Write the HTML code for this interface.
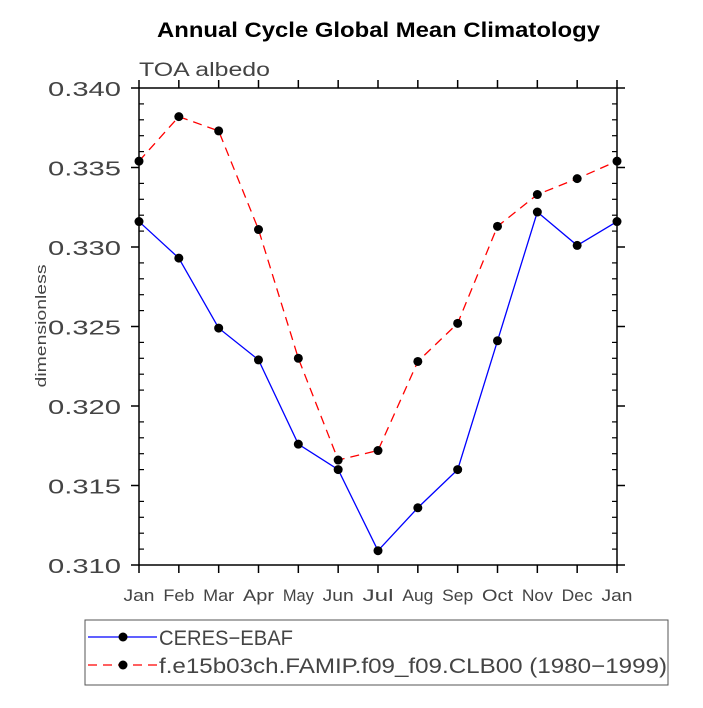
<!DOCTYPE html>
<html><head><meta charset="utf-8"><style>body{margin:0;background:#fff}svg text{font-family:"Liberation Sans",sans-serif}</style></head>
<body>
<svg id="c" width="703" height="703" xmlns="http://www.w3.org/2000/svg">
<text x="157" y="37" textLength="443" lengthAdjust="spacingAndGlyphs" font-size="21" font-weight="bold">Annual Cycle Global Mean Climatology</text>
<text x="139" y="76" textLength="131" lengthAdjust="spacingAndGlyphs" font-size="19" fill="#444">TOA albedo</text>
<text x="0" y="0" transform="translate(46,326) rotate(-90)" text-anchor="middle" textLength="123" lengthAdjust="spacingAndGlyphs" font-size="15" fill="#444">dimensionless</text>
<rect x="139" y="88" width="478" height="477" fill="none" stroke="#000" stroke-width="1.5"/>
<g id="axes"></g>
<g id="series"></g>
<rect x="85" y="620" width="583" height="65" fill="none" stroke="#555" stroke-width="1"/>
<g>
<line x1="88" y1="637" x2="157" y2="637" stroke="#00f" stroke-width="1.3"/>
<circle cx="123" cy="637" r="4.5" fill="#000"/>
<text x="159" y="645" textLength="134" lengthAdjust="spacingAndGlyphs" font-size="21" fill="#444">CERES−EBAF</text>
</g>
<g>
<line x1="88" y1="665" x2="157" y2="665" stroke="#f00" stroke-width="1.3" stroke-dasharray="9,6"/>
<circle cx="123" cy="665" r="4.5" fill="#000"/>
<text x="159" y="673" textLength="508" lengthAdjust="spacingAndGlyphs" font-size="21" fill="#444">f.e15b03ch.FAMIP.f09_f09.CLB00 (1980−1999)</text>
</g>
</svg>
<script>
const months=["Jan","Feb","Mar","Apr","May","Jun","Jul","Aug","Sep","Oct","Nov","Dec","Jan"];
const ceres=[0.3316,0.3293,0.3249,0.3229,0.3176,0.3160,0.3109,0.3136,0.3160,0.3241,0.3322,0.3301,0.3316];
const model=[0.3354,0.3382,0.3373,0.3311,0.3230,0.3166,0.3172,0.3228,0.3252,0.3313,0.3333,0.3343,0.3354];
const yTicks=["0.310","0.315","0.320","0.325","0.330","0.335","0.340"];
const NS="http://www.w3.org/2000/svg";
const X0=139,X1=617,Y0=565,Y1=88,YMIN=0.310,YMAX=0.340;
const xs=i=>X0+(X1-X0)*i/12;
const ys=v=>Y0-(v-YMIN)/(YMAX-YMIN)*(Y0-Y1);
const ax=document.getElementById('axes'),se=document.getElementById('series');
function mk(t,a,p){const e=document.createElementNS(NS,t);for(const k in a)e.setAttribute(k,a[k]);p.appendChild(e);return e;}
months.forEach((m,i)=>{const x=xs(i);
mk('line',{x1:x,y1:Y0,x2:x,y2:Y0+8,stroke:'#000','stroke-width':1.5},ax);
mk('line',{x1:x,y1:Y1,x2:x,y2:Y1-8,stroke:'#000','stroke-width':1.5},ax);
const t=mk('text',{x:x,y:601,'text-anchor':'middle','font-size':17,fill:'#444',textLength:m.length>2?31:20,lengthAdjust:'spacingAndGlyphs'},ax);t.textContent=m;


});
yTicks.forEach(l=>{const y=ys(parseFloat(l));
mk('line',{x1:X0-8,y1:y,x2:X0,y2:y,stroke:'#000','stroke-width':1.5},ax);
mk('line',{x1:X1,y1:y,x2:X1+8,y2:y,stroke:'#000','stroke-width':1.5},ax);
const t=mk('text',{x:48,y:y+8,'font-size':20,fill:'#444',textLength:73,lengthAdjust:'spacingAndGlyphs'},ax);t.textContent=l;


});
for(let k=1;k<30;k++){if(k%5==0)continue;const y=ys(YMIN+k*0.001);
mk('line',{x1:X0,y1:y,x2:X0+5,y2:y,stroke:'#000','stroke-width':1.2},ax);
mk('line',{x1:X1-5,y1:y,x2:X1,y2:y,stroke:'#000','stroke-width':1.2},ax);}
function draw(vals,color,dash,name){
const p=mk('polyline',{points:vals.map((v,i)=>xs(i)+','+ys(v)).join(' '),fill:'none',stroke:color,'stroke-width':1.3,'stroke-dasharray':dash},se);


vals.forEach((v,i)=>{const c=mk('circle',{cx:xs(i),cy:ys(v),r:4.5,fill:'#000'},se);

});
}
draw(ceres,'#00f','none','ceres');
draw(model,'#f00','9,6','model');
</script>
</body></html>
